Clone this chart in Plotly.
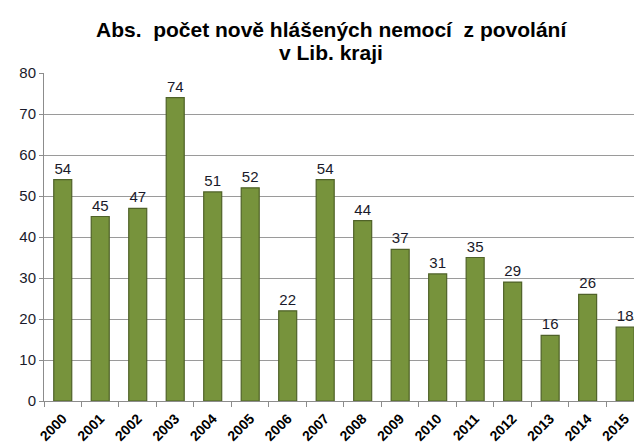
import plotly.graph_objects as go

years = ["2000", "2001", "2002", "2003", "2004", "2005", "2006", "2007",
         "2008", "2009", "2010", "2011", "2012", "2013", "2014", "2015"]
counts = [54, 45, 47, 74, 51, 52, 22, 54, 44, 37, 31, 35, 29, 16, 26, 18]
title_lines = ["Abs.  počet nově hlášených nemocí  z povolání", "v Lib. kraji"]

FONT = "Liberation Sans, Arial, sans-serif"

# page body has an 8px margin, so the figure is 8px smaller and offset
W, H = 634, 438
ML, MT, MB = 36, 65, 45
XR = [-0.5, 15.45]

fig = go.Figure()
fig.add_trace(go.Bar(
    x=list(range(len(years))), y=counts,
    marker=dict(color="#77933C", line=dict(color="#4F6228", width=1.2)),
    width=0.48,
    text=[str(v) for v in counts],
    textposition="outside",
    textfont=dict(family=FONT, size=15, color="#1a1a2a"),
    cliponaxis=False,
))
# invisible helper trace on the secondary x-axis so it gets drawn
fig.add_trace(go.Scatter(x=[0], y=[0], xaxis="x2", mode="markers",
                         marker=dict(opacity=0), hoverinfo="skip", showlegend=False))

fig.update_layout(
    width=W, height=H,
    margin=dict(l=ML, r=0, t=MT, b=MB, autoexpand=False),
    paper_bgcolor="white", plot_bgcolor="white",
    showlegend=False,
    xaxis=dict(
        range=XR,
        showline=True, linecolor="#8c8c8c", linewidth=1,
        ticks="",
        tickmode="array", tickvals=list(range(len(years))),
        ticktext=["<b>" + y + "</b>" for y in years],
        tickangle=-45,
        ticklabelstandoff=3,
        tickfont=dict(family=FONT, size=14, color="#000000"),
        showgrid=False, zeroline=False,
        automargin=False,
    ),
    xaxis2=dict(
        overlaying="x", side="bottom", anchor="y",
        range=XR,
        tickmode="array", tickvals=[i - 0.5 for i in range(len(years) + 1)],
        ticks="outside", ticklen=5, tickcolor="#8c8c8c",
        showticklabels=False, showgrid=False, zeroline=False, showline=False,
    ),
    yaxis=dict(
        range=[0, 80], dtick=10,
        showline=True, linecolor="#8c8c8c", linewidth=1,
        ticks="outside", ticklen=4, tickcolor="#8c8c8c",
        gridcolor="#9a9a9a", gridwidth=1,
        zeroline=False,
        tickfont=dict(family=FONT, size=15, color="#1a1a2a"),
        automargin=False,
    ),
)

for i, line in enumerate(title_lines):
    fig.add_annotation(
        text="<b>" + line + "</b>",
        xref="paper", yref="paper",
        x=(331 - 8 - ML) / (W - ML),
        y=(H - MB - ([29, 52][i] - 8)) / (H - MT - MB),
        showarrow=False, xanchor="center", yanchor="middle",
        font=dict(family=FONT, size=21, color="#000000"),
    )

fig.write_html("out.html")
